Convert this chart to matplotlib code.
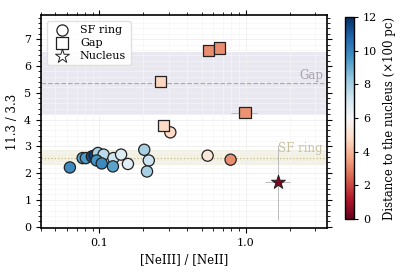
import matplotlib
matplotlib.use("Agg")
import matplotlib.pyplot as plt
import numpy as np
from matplotlib.ticker import AutoMinorLocator, FixedLocator, NullFormatter

plt.rcParams['font.family'] = ['DejaVu Serif']
plt.rcParams['font.size'] = 8
plt.rcParams['mathtext.fontset'] = 'dejavuserif'

# SF ring (circles)
ring_x = [0.063, 0.077, 0.081, 0.089, 0.093, 0.098, 0.107, 0.096, 0.104, 0.125, 0.124,
          0.141, 0.157, 0.203, 0.218, 0.212, 0.306, 0.55, 0.79]
ring_y = [2.21, 2.56, 2.56, 2.62, 2.66, 2.75, 2.69, 2.47, 2.36, 2.56, 2.25,
          2.69, 2.34, 2.87, 2.47, 2.06, 3.52, 2.65, 2.50]
ring_d = [9.8, 9.2, 9.4, 11.3, 11.6, 8.0, 7.6, 9.6, 9.8, 7.2, 9.2,
          6.8, 6.7, 8.0, 7.3, 8.0, 4.8, 5.3, 3.2]
ring_xerr = [0.003, 0.004, 0.004, 0.004, 0.004, 0.005, 0.005, 0.004, 0.005, 0.006, 0.006,
             0.007, 0.008, 0.01, 0.01, 0.01, 0.015, 0.03, 0.04]
ring_yerr = [0.05, 0.05, 0.05, 0.05, 0.05, 0.05, 0.05, 0.05, 0.05, 0.05, 0.05,
             0.05, 0.05, 0.06, 0.06, 0.06, 0.08, 0.08, 0.08]

# Gap (squares)
gap_x = [0.555, 0.66, 0.262, 0.275, 0.99]
gap_y = [6.58, 6.67, 5.42, 3.78, 4.25]
gap_d = [3.2, 3.2, 4.7, 4.8, 3.3]
gap_xerr = [0.03, 0.03, 0.015, 0.015, 0.2]
gap_yerr = [0.1, 0.1, 0.1, 0.1, 0.1]

# Nucleus (star)
nuc_x = [1.67]
nuc_y = [1.65]
nuc_d = [0.3]
nuc_xerr = [[0.32], [0.33]]
nuc_yerr = [[1.39], [1.41]]

gap_band = (4.18, 6.53)
gap_level = 5.35
ring_band = (2.30, 2.85)
ring_level = 2.57

cmap = plt.get_cmap('RdBu')
norm = matplotlib.colors.Normalize(vmin=0, vmax=12)

fig = plt.figure(figsize=(4.11, 2.74), dpi=100)
ax = fig.add_axes([0.0998, 0.168, 0.6958, 0.777])
cax = fig.add_axes([0.839, 0.2, 0.022, 0.738])

ax.axhspan(*gap_band, color='#e9e7ef', zorder=0, lw=0)
ax.axhline(gap_level, color='#b0aab8', ls='--', lw=0.9, zorder=1)
ax.text(3.4, gap_level + 0.05, 'Gap', color='#a8a2b0', ha='right', va='bottom', fontsize=8.5)
ax.axhspan(*ring_band, color='#f3f1e2', zorder=0, lw=0)
ax.axhline(ring_level, color='#c2ba8c', ls=':', lw=0.9, zorder=1)
ax.text(1.67, ring_level + 0.12, 'SF ring', color='#c9c0a0', ha='left', va='bottom', fontsize=8.5)

ekw = dict(fmt='none', ecolor='#bbbbbb', elinewidth=0.7, zorder=2)
ax.errorbar(ring_x, ring_y, xerr=ring_xerr, yerr=ring_yerr, **ekw)
ax.errorbar(gap_x, gap_y, xerr=gap_xerr, yerr=gap_yerr, **ekw)
ax.errorbar(nuc_x, nuc_y, xerr=nuc_xerr, yerr=nuc_yerr, **ekw)

sc = ax.scatter(ring_x, ring_y, c=ring_d, cmap=cmap, norm=norm, marker='o', s=65,
                edgecolors='#222222', linewidths=0.9, zorder=3)
ax.scatter(gap_x, gap_y, c=gap_d, cmap=cmap, norm=norm, marker='s', s=65,
           edgecolors='#222222', linewidths=0.9, zorder=3)
ax.scatter(nuc_x, nuc_y, c=nuc_d, cmap=cmap, norm=norm, marker='*', s=110,
           edgecolors='#222222', linewidths=0.7, zorder=3)

# legend proxies
h1 = ax.scatter([], [], marker='o', s=65, facecolors='white', edgecolors='#222222', linewidths=0.9)
h2 = ax.scatter([], [], marker='s', s=65, facecolors='white', edgecolors='#222222', linewidths=0.9)
h3 = ax.scatter([], [], marker='*', s=110, facecolors='white', edgecolors='#222222', linewidths=0.7)
leg = ax.legend([h1, h2, h3], ['SF ring', 'Gap', 'Nucleus'], loc='upper left',
                fontsize=8, handletextpad=0.6, borderpad=0.4, labelspacing=0.25,
                framealpha=0.9, edgecolor='#dddddd', fancybox=True)

ax.set_xscale('log')
ax.set_xlim(0.04, 3.6)
ax.set_ylim(-0.05, 7.9)
ax.xaxis.set_major_locator(FixedLocator([0.1, 1.0]))
ax.set_xticklabels(['0.1', '1.0'])
ax.xaxis.set_minor_formatter(NullFormatter())
ax.yaxis.set_major_locator(FixedLocator([0, 1, 2, 3, 4, 5, 6, 7]))
ax.yaxis.set_minor_locator(AutoMinorLocator(5))
ax.tick_params(which='both', direction='out', top=True, right=True)
ax.tick_params(which='major', length=3.5, width=0.8)
ax.tick_params(which='minor', length=2, width=0.6)
ax.grid(True, which='major', color='#eeeeee', lw=0.6, zorder=0)
ax.grid(True, which='minor', color='#f5f5f5', lw=0.5, zorder=0)
ax.set_axisbelow(True)
for s in ax.spines.values():
    s.set_linewidth(1.2)
ax.set_xlabel('[NeIII] / [NeII]', fontsize=8.5)
ax.set_ylabel('11.3 / 3.3', fontsize=8.5)

cb = fig.colorbar(sc, cax=cax)
cb.set_ticks([0, 2, 4, 6, 8, 10, 12])
cb.set_label('Distance to the nucleus (×100 pc)', fontsize=8.5)
cb.outline.set_linewidth(1.0)
cax.tick_params(direction='out', length=3, labelsize=8)

fig.savefig('out.png', dpi=100)
